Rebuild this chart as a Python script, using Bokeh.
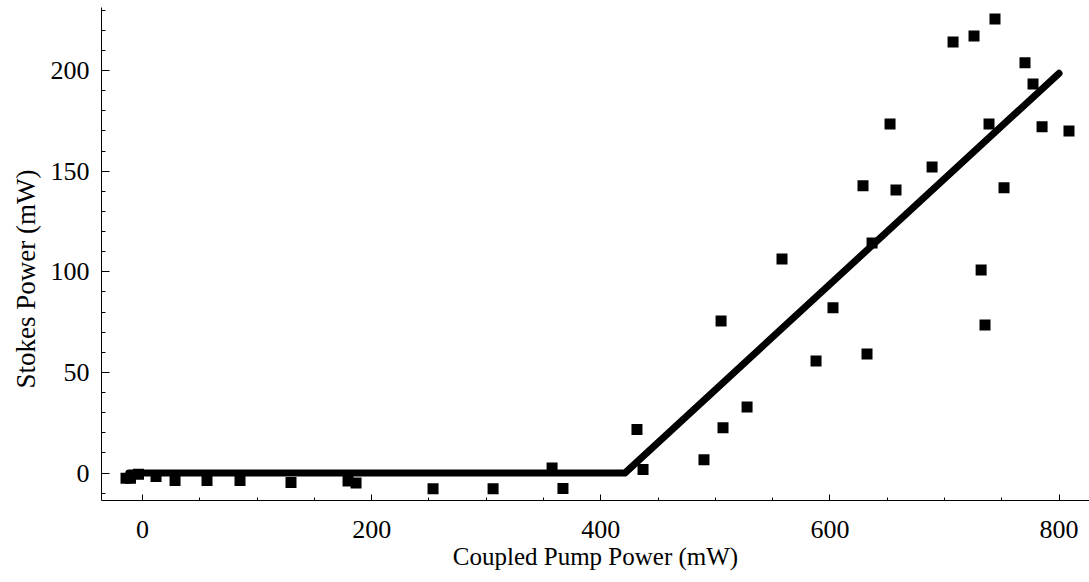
from bokeh.plotting import figure
from bokeh.models import Range1d, SingleIntervalTicker, Title
from bokeh.embed import file_html
from bokeh.resources import INLINE

# Measured data (Coupled pump power mW, Stokes power mW)
pump = [-14.4, -10.5, -3.5, 11.8, 28.4, 56.3, 85.1, 129.6, 179.4, 186.4,
        253.6, 306.0, 357.5, 367.0, 431.6, 436.9, 490.1, 506.7, 527.7, 505.0,
        558.2, 587.9, 602.7, 632.4, 636.8, 628.9, 657.7, 652.5, 689.2, 738.9,
        752.0, 707.5, 725.8, 744.1, 770.3, 777.3, 785.2, 808.7, 732.0, 735.4]
stokes = [-2.6, -2.6, -0.6, -1.7, -3.7, -3.7, -3.7, -4.7, -3.9, -4.9,
          -7.8, -7.8, 2.6, -7.6, 21.7, 1.8, 6.6, 22.5, 32.9, 75.6,
          106.4, 55.7, 82.1, 59.2, 114.3, 142.7, 140.7, 173.4, 152.1, 173.4,
          141.7, 214.2, 217.2, 225.6, 203.8, 193.3, 172.0, 170.0, 100.9, 73.6]

# Threshold fit
fit_x = [-12, 421, 800]
fit_y = [0, 0, 198.6]

x_label = "Coupled Pump Power (mW)"
y_label = "Stokes Power (mW)"

W, H = 1089, 582
LEFT, BOTTOM = 101, 82
p = figure(width=W, height=H, output_backend="svg", toolbar_location=None,
           x_range=Range1d(-35.8, 826.6), y_range=Range1d(-13.6, 231.3),
           min_border_left=LEFT, min_border_top=7, min_border_right=0,
           min_border_bottom=BOTTOM)
p.outline_line_color = None
p.grid.visible = False
p.background_fill_color = "white"
p.border_fill_color = "white"

p.line(fit_x, fit_y, line_color="black", line_width=7,
       line_cap="round", line_join="round")
p.scatter(pump, stokes, marker="square", size=11, fill_color="black",
          line_color="black", line_width=0)

p.xaxis.ticker = SingleIntervalTicker(interval=200, num_minor_ticks=4)
p.yaxis.ticker = SingleIntervalTicker(interval=50, num_minor_ticks=5)

for ax in (p.xaxis, p.yaxis):
    ax.axis_line_color = "black"
    ax.axis_line_width = 1
    ax.major_tick_out = 0
    ax.minor_tick_out = 0
    ax.major_tick_line_color = "black"
    ax.minor_tick_line_color = "black"
    ax.major_label_text_font = "Liberation Serif"
    ax.major_label_text_font_size = "26px"
    ax.major_label_text_color = "black"
    ax.axis_label_text_font = "Liberation Serif"
    ax.axis_label_text_font_size = "25px"
    ax.axis_label_text_font_style = "normal"
    ax.axis_label_text_color = "black"

p.xaxis.major_tick_in = 6
p.xaxis.minor_tick_in = 3
p.yaxis.major_tick_in = 8
p.yaxis.minor_tick_in = 4
p.xaxis.major_label_standoff = 20
p.yaxis.major_label_standoff = 12
p.xaxis.axis_label = x_label
p.xaxis.axis_label_standoff = 2

# y-axis title as a left-side title, shifted to sit where the reference has it
ytitle = Title(text=y_label, align="left", offset=112,
               text_font="Liberation Serif", text_font_size="27px",
               text_font_style="normal", text_color="black", standoff=13)
p.add_layout(ytitle, "left")

open("out.html", "w").write(file_html(p, INLINE))
